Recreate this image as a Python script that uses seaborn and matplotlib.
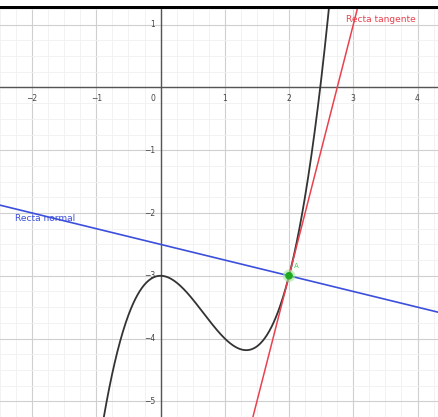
import numpy as np
import pandas as pd
import matplotlib
matplotlib.use("Agg")
import matplotlib.pyplot as plt
import seaborn as sns
from matplotlib.patches import Rectangle

# ---- data ----
cubic_coeffs = [1, -2, 0, -3]          # f(x) = x^3 - 2x^2 - 3
point_x = [2]
point_y = [-3]
tangent_slope = 4
tangent_intercept = -11
normal_slope = -0.25
normal_intercept = -2.5
x_ticks = [-2, -1, 0, 1, 2, 3, 4]
y_ticks = [1, -1, -2, -3, -4, -5]
tangent_label = "Recta tangente"
normal_label = "Recta normal"
point_label = "A"

sns.set_theme(style="white")
plt.rcParams['font.family'] = ['DejaVu Sans']

fig = plt.figure(figsize=(4.38, 4.17), dpi=100)
H = 417.0
ax = fig.add_axes([0, 0, 1, 408 / H])
fig.patches.append(Rectangle((0, 1 - 9 / H), 1, 3 / H, transform=fig.transFigure,
                             facecolor="black", edgecolor="none"))

xmin, xmax = -2.498, 4.319
ymin, ymax = -5.17, 1.222
ax.set_xlim(xmin, xmax)
ax.set_ylim(ymin, ymax)

# grid
ax.set_xticks(np.arange(-2, 5, 1))
ax.set_yticks(np.arange(-5, 2, 1))
ax.set_xticks(np.arange(-2.5, 4.5, 0.25), minor=True)
ax.set_yticks(np.arange(-5.25, 1.5, 0.25), minor=True)
ax.grid(True, which="major", color="#cfcfcf", lw=0.8)
ax.grid(True, which="minor", color="#f0f0f0", lw=0.6)
ax.tick_params(which="both", length=0, labelbottom=False, labelleft=False)
for s in ax.spines.values():
    s.set_visible(False)
ax.set_axisbelow(True)

# axes lines
ax.axhline(0, color="#555555", lw=1.0, zorder=1)
ax.axvline(0, color="#555555", lw=1.0, zorder=1)

# tick labels
for xv in x_ticks:
    dx = -0.12 if xv == 0 else 0
    ax.text(xv + dx, -0.1, f"{xv}".replace("-", "\u2212"), ha="center", va="top",
            fontsize=5.5, color="#444444")
for yv in y_ticks:
    ax.text(-0.08, yv, f"{yv}".replace("-", "\u2212"), ha="right", va="center",
            fontsize=5.5, color="#444444")

# curve
xs = np.linspace(xmin, xmax, 800)
df = pd.DataFrame({"x": xs, "y": np.polyval(cubic_coeffs, xs)})
sns.lineplot(data=df, x="x", y="y", ax=ax, color="#333333", lw=1.3, zorder=3)

# tangent and normal
ax.axline((0, tangent_intercept), slope=tangent_slope, color="#e8424f", lw=1.1, zorder=4)
ax.axline((0, normal_intercept), slope=normal_slope, color="#3c4fdc", lw=1.2, zorder=2)

# point
sns.scatterplot(x=point_x, y=point_y, ax=ax, s=80, color="#9be89b", edgecolor="none",
                alpha=0.6, zorder=5)
sns.scatterplot(x=point_x, y=point_y, ax=ax, s=30, color="#1fa81f", edgecolor="none",
                zorder=6)
ax.text(point_x[0] + 0.07, point_y[0] + 0.1, point_label, fontsize=5, color="#55cc55",
        ha="left", va="bottom", zorder=6)

# labels
ax.text(2.88, 1.08, tangent_label, fontsize=6.5, color="#e8424f", ha="left", va="center")
ax.text(-2.26, -2.09, normal_label, fontsize=6.5, color="#3c4fdc", ha="left", va="center")

ax.set_xlabel("")
ax.set_ylabel("")
fig.savefig("out.png", dpi=100)
